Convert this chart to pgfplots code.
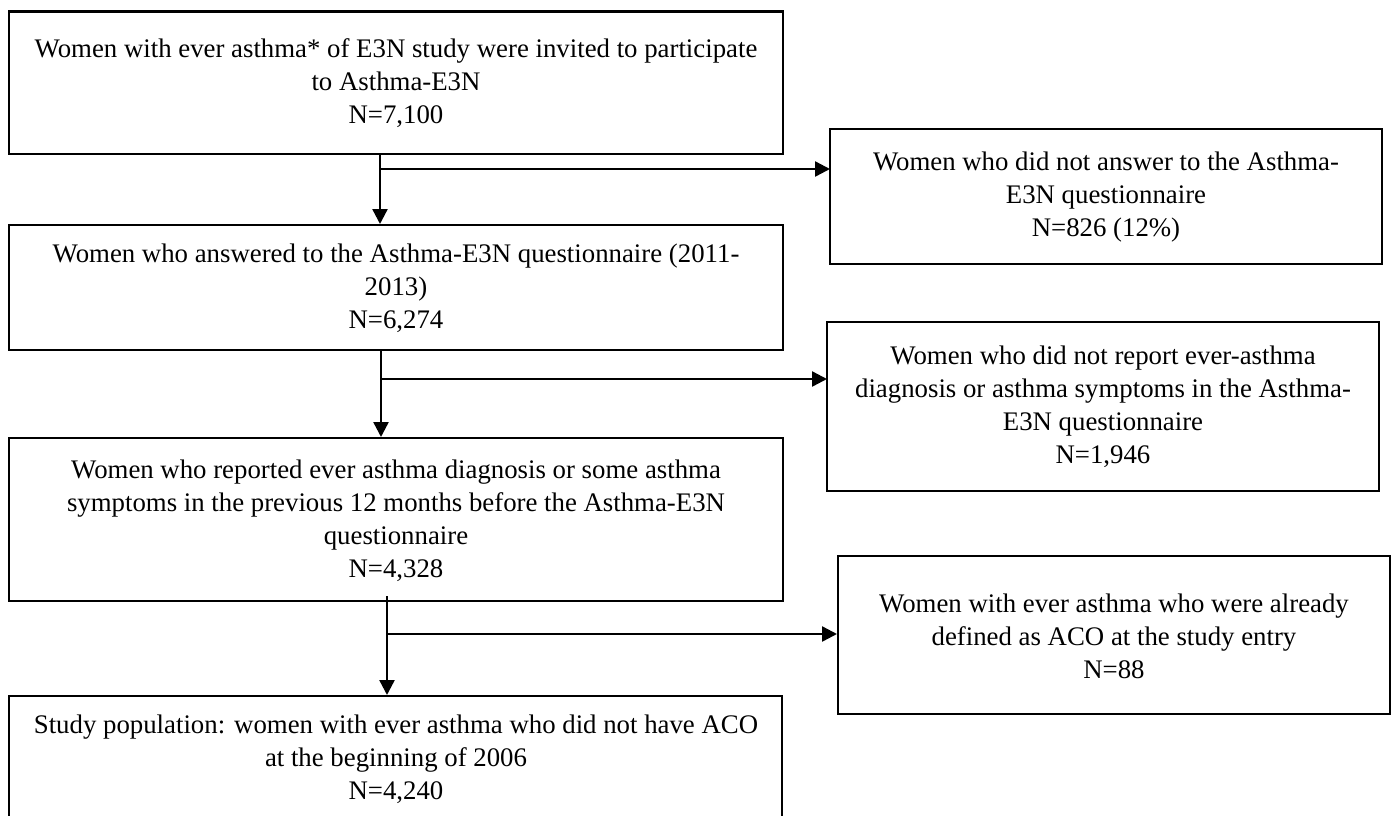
\documentclass[border=0pt]{standalone}
\usepackage{pgfplots}
\pgfplotsset{compat=1.18}
\usepackage{fontspec}
\setmainfont{Liberation Serif}
\usetikzlibrary{arrows.meta}
\begin{document}
\begin{tikzpicture}
\begin{axis}[
  width=1395pt, height=816pt, scale only axis,
  xmin=0, xmax=1395, ymin=0, ymax=816, y dir=reverse,
  hide axis, clip=true,
  box/.style={black, solid, line width=2.4pt, line join=miter, mark=none},
  arr/.style={black, solid, line width=2.4pt, mark=none, -{Triangle[length=15pt,width=15pt]}},
]
\path (rel axis cs:0,0) rectangle (rel axis cs:1,1);
% boxes
\addplot[box] coordinates {(9,11.5)(783,11.5)(783,154)(9,154)} -- cycle;
\addplot[box] coordinates {(830,129)(1382,129)(1382,264)(830,264)} -- cycle;
\addplot[box] coordinates {(9,225)(783,225)(783,350)(9,350)} -- cycle;
\addplot[box] coordinates {(827,322)(1379,322)(1379,491)(827,491)} -- cycle;
\addplot[box] coordinates {(9,438)(783,438)(783,601)(9,601)} -- cycle;
\addplot[box] coordinates {(838,556)(1390,556)(1390,714)(838,714)} -- cycle;
\addplot[box] coordinates {(9,696)(782,696)(782,830)(9,830)} -- cycle;
% arrows
\addplot[arr] coordinates {(380,153)(380,224)};
\addplot[arr] coordinates {(380,169)(830,169)};
\addplot[arr] coordinates {(381,350)(381,437)};
\addplot[arr] coordinates {(381,379)(827,379)};
\addplot[arr] coordinates {(387,596)(387,695)};
\addplot[arr] coordinates {(387,634)(837,634)};
% texts
\tikzset{txt/.style={align=center, inner sep=0pt, font=\fontsize{26.8}{33}\selectfont}}
\node[txt] at (axis cs:396,83) {Women with ever asthma* of E3N study were invited to participate\\to Asthma-E3N\\N=7,100};
\node[txt] at (axis cs:1106,197) {Women who did not answer to the Asthma-\\E3N questionnaire\\N=826 (12\%)};
\node[txt] at (axis cs:396,288) {Women who answered to the Asthma-E3N questionnaire (2011-\\2013)\\N=6,274};
\node[txt] at (axis cs:1103,407) {Women who did not report ever-asthma\\diagnosis or asthma symptoms in the Asthma-\\E3N questionnaire\\N=1,946};
\node[txt] at (axis cs:396,521) {Women who reported ever asthma diagnosis or some asthma\\symptoms in the previous 12 months before the Asthma-E3N\\questionnaire\\N=4,328};
\node[txt] at (axis cs:1114,636) {Women with ever asthma who were already\\defined as ACO at the study entry\\N=88};
\node[txt] at (axis cs:396,759) {Study population: women with ever asthma who did not have ACO\\at the beginning of 2006\\N=4,240};
\end{axis}
\end{tikzpicture}
\end{document}
